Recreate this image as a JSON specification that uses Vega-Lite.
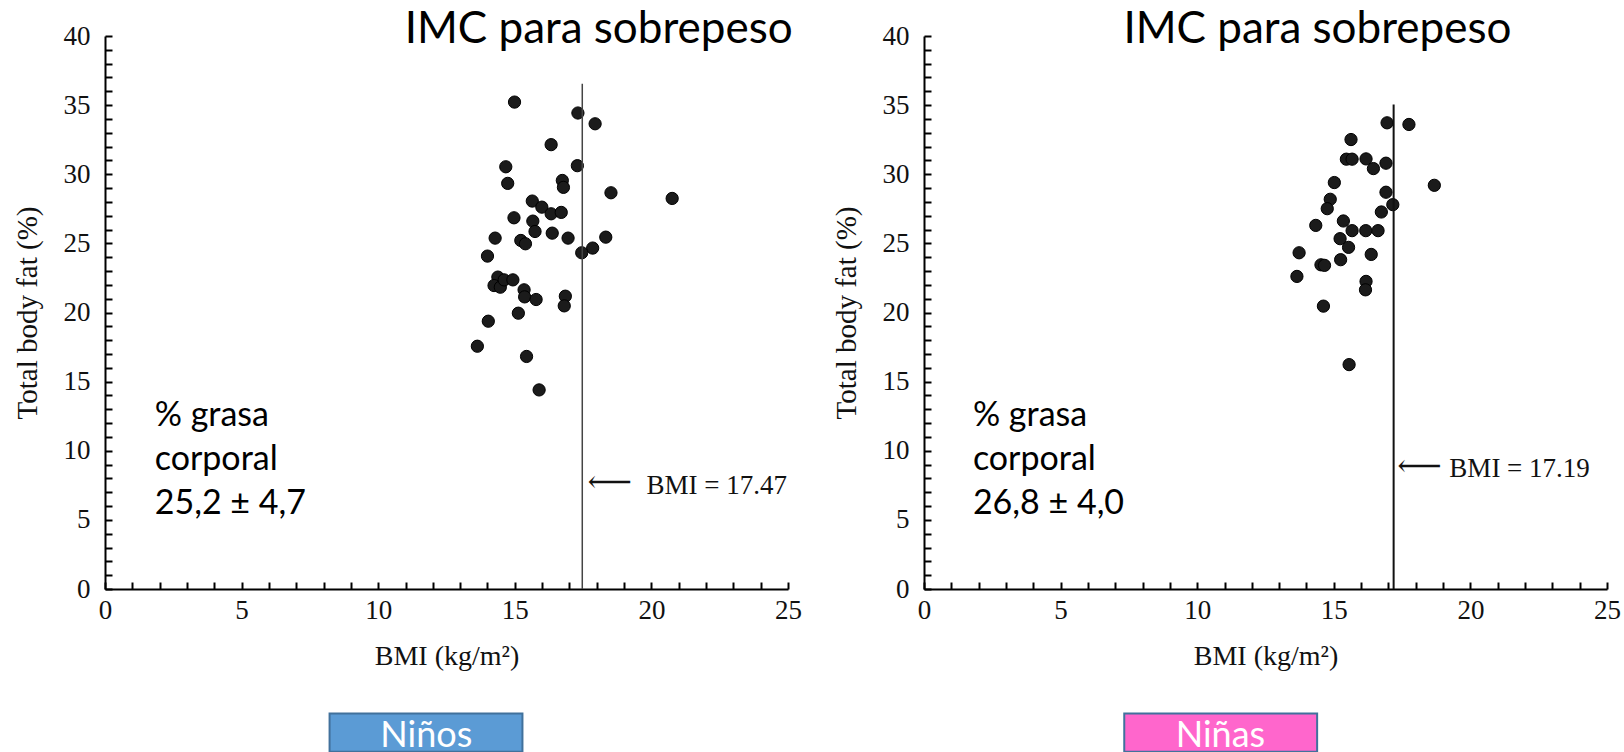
{
  "$schema": "https://vega.github.io/schema/vega-lite/v6.json",
  "background": "white",
  "padding": {"left": 13, "top": 7, "right": 0, "bottom": 0},
  "spacing": 136,
  "bounds": "flush",
  "config": {
    "view": {"stroke": null},
    "axis": {
      "domainColor": "black",
      "domainWidth": 2,
      "tickColor": "black",
      "tickWidth": 2,
      "tickSize": -7,
      "grid": false,
      "labelFont": "Liberation Serif",
      "labelFontSize": 27,
      "labelColor": "#111",
      "labelFlush": false,
      "titleFont": "Liberation Serif",
      "titleFontWeight": "normal",
      "titleColor": "#111"
    },
    "axisX": {"labelPadding": 8, "titlePadding": 19, "labelAngle": 0, "titleFontSize": 28},
    "axisY": {"labelPadding": 15, "titlePadding": 21, "titleFontSize": 29}
  },
  "datasets": {
    "ninos": [
      {"bmi": 14.99, "fat": 35.22}, {"bmi": 17.31, "fat": 34.43}, {"bmi": 17.94, "fat": 33.65},
      {"bmi": 16.33, "fat": 32.14}, {"bmi": 14.67, "fat": 30.54}, {"bmi": 17.29, "fat": 30.62},
      {"bmi": 14.74, "fat": 29.34}, {"bmi": 16.74, "fat": 29.55}, {"bmi": 16.78, "fat": 29.05},
      {"bmi": 18.52, "fat": 28.66}, {"bmi": 20.76, "fat": 28.25}, {"bmi": 15.64, "fat": 28.06},
      {"bmi": 15.99, "fat": 27.62}, {"bmi": 16.33, "fat": 27.14}, {"bmi": 16.7, "fat": 27.24},
      {"bmi": 14.97, "fat": 26.85}, {"bmi": 15.66, "fat": 26.61}, {"bmi": 15.74, "fat": 25.86},
      {"bmi": 16.37, "fat": 25.74}, {"bmi": 14.28, "fat": 25.38}, {"bmi": 15.22, "fat": 25.21},
      {"bmi": 15.39, "fat": 24.97}, {"bmi": 16.95, "fat": 25.38}, {"bmi": 18.33, "fat": 25.45},
      {"bmi": 17.85, "fat": 24.66}, {"bmi": 17.45, "fat": 24.32}, {"bmi": 14.0, "fat": 24.08},
      {"bmi": 14.38, "fat": 22.56}, {"bmi": 14.24, "fat": 21.95}, {"bmi": 14.47, "fat": 21.83},
      {"bmi": 14.61, "fat": 22.36}, {"bmi": 14.93, "fat": 22.36}, {"bmi": 15.34, "fat": 21.64},
      {"bmi": 15.36, "fat": 21.13}, {"bmi": 15.78, "fat": 20.94}, {"bmi": 16.85, "fat": 21.18},
      {"bmi": 16.81, "fat": 20.48}, {"bmi": 15.13, "fat": 19.95}, {"bmi": 14.03, "fat": 19.37},
      {"bmi": 13.63, "fat": 17.56}, {"bmi": 15.43, "fat": 16.82}, {"bmi": 15.89, "fat": 14.4}
    ],
    "ninas": [
      {"bmi": 16.95, "fat": 33.72}, {"bmi": 17.75, "fat": 33.6}, {"bmi": 15.63, "fat": 32.51},
      {"bmi": 15.46, "fat": 31.09}, {"bmi": 15.67, "fat": 31.09}, {"bmi": 16.18, "fat": 31.11},
      {"bmi": 16.91, "fat": 30.8}, {"bmi": 16.45, "fat": 30.41}, {"bmi": 15.02, "fat": 29.4},
      {"bmi": 18.68, "fat": 29.2}, {"bmi": 14.87, "fat": 28.19}, {"bmi": 16.91, "fat": 28.7},
      {"bmi": 17.16, "fat": 27.8}, {"bmi": 14.76, "fat": 27.51}, {"bmi": 16.74, "fat": 27.27},
      {"bmi": 14.34, "fat": 26.3}, {"bmi": 15.35, "fat": 26.62}, {"bmi": 15.67, "fat": 25.92},
      {"bmi": 16.17, "fat": 25.92}, {"bmi": 16.62, "fat": 25.92}, {"bmi": 15.23, "fat": 25.34},
      {"bmi": 15.54, "fat": 24.71}, {"bmi": 13.73, "fat": 24.32}, {"bmi": 16.37, "fat": 24.2},
      {"bmi": 14.53, "fat": 23.45}, {"bmi": 14.66, "fat": 23.41}, {"bmi": 15.25, "fat": 23.82},
      {"bmi": 13.65, "fat": 22.61}, {"bmi": 16.18, "fat": 22.25}, {"bmi": 16.16, "fat": 21.64},
      {"bmi": 14.62, "fat": 20.46}, {"bmi": 15.56, "fat": 16.23}
    ]
  },
  "hconcat": [
    {
      "width": 683,
      "height": 553,
      "resolve": {"axis": {"x": "independent", "y": "independent"}},
      "layer": [
        {
          "data": {"name": "ninos"},
          "mark": {"type": "point", "filled": true, "size": 150, "color": "#1b1b1b", "stroke": "#000", "strokeWidth": 1, "opacity": 1},
          "encoding": {
            "x": {"field": "bmi", "type": "quantitative", "scale": {"domain": [0, 25], "nice": false},
                  "axis": {"orient": "bottom", "title": null, "labels": false,
                           "values": [0,1,2,3,4,5,6,7,8,9,10,11,12,13,14,15,16,17,18,19,20,21,22,23,24,25]}},
            "y": {"field": "fat", "type": "quantitative", "scale": {"domain": [0, 40], "nice": false},
                  "axis": {"orient": "left", "title": null, "labels": false,
                           "values": [0,1,2,3,4,5,6,7,8,9,10,11,12,13,14,15,16,17,18,19,20,21,22,23,24,25,26,27,28,29,30,31,32,33,34,35,36,37,38,39,40]}}
          }
        },
        {
          "data": {"values": [{"bmi": 17.47, "lo": 0, "hi": 36.55}]},
          "mark": {"type": "rule", "color": "#444", "strokeWidth": 1.5},
          "encoding": {
            "x": {"field": "bmi", "type": "quantitative",
                  "axis": {"orient": "bottom", "title": "BMI (kg/m²)", "domain": false, "ticks": false, "values": [0, 5, 10, 15, 20, 25]}},
            "y": {"field": "lo", "type": "quantitative",
                  "axis": {"orient": "left", "title": "Total body fat (%)", "domain": false, "ticks": false, "values": [0, 5, 10, 15, 20, 25, 30, 35, 40]}},
            "y2": {"field": "hi"}
          }
        },
        {
          "data": {"values": [{"text": "⟵", "bmi": 17.66, "fat": 7.64}]},
          "mark": {"type": "text", "align": "left", "baseline": "middle", "font": "DejaVu Serif", "fontSize": 31, "color": "#111"},
          "encoding": {"x": {"field": "bmi", "type": "quantitative", "axis": null}, "y": {"field": "fat", "type": "quantitative", "axis": null}, "text": {"field": "text"}}
        },
        {
          "data": {"values": [{"text": "BMI = 17.47", "bmi": 19.82, "fat": 6.88}]},
          "mark": {"type": "text", "align": "left", "baseline": "alphabetic", "font": "Liberation Serif", "fontSize": 27, "color": "#111"},
          "encoding": {"x": {"field": "bmi", "type": "quantitative", "axis": null}, "y": {"field": "fat", "type": "quantitative", "axis": null}, "text": {"field": "text"}}
        },
        {
          "data": {"values": [{"text": "% grasa\ncorporal\n25,2 ± 4,7", "bmi": 1.82, "fat": 11.82}]},
          "mark": {"type": "text", "align": "left", "baseline": "alphabetic", "lineBreak": "\n", "lineHeight": 44, "font": "Lato", "fontSize": 34, "color": "black"},
          "encoding": {"x": {"field": "bmi", "type": "quantitative", "axis": null}, "y": {"field": "fat", "type": "quantitative", "axis": null}, "text": {"field": "text"}}
        },
        {
          "data": {"values": [{"text": "IMC para sobrepeso", "bmi": 18.07, "fat": 39.51}]},
          "mark": {"type": "text", "align": "center", "baseline": "alphabetic", "font": "Lato", "fontSize": 44, "color": "black"},
          "encoding": {"x": {"field": "bmi", "type": "quantitative", "axis": null}, "y": {"field": "fat", "type": "quantitative", "axis": null}, "text": {"field": "text"}}
        },
        {
          "data": {"values": [{"left": 8.22, "right": 15.28, "top": -9.0, "bottom": -11.78}]},
          "mark": {"type": "rect", "color": "#5B9BD5", "stroke": "#41719C", "strokeWidth": 2},
          "encoding": {"x": {"field": "left", "type": "quantitative", "axis": null}, "x2": {"field": "right"}, "y": {"field": "top", "type": "quantitative", "axis": null}, "y2": {"field": "bottom"}}
        },
        {
          "data": {"values": [{"text": "Niños", "bmi": 11.76, "fat": -10.6}]},
          "mark": {"type": "text", "align": "center", "baseline": "middle", "font": "Lato", "fontSize": 36, "color": "white"},
          "encoding": {"x": {"field": "bmi", "type": "quantitative", "axis": null}, "y": {"field": "fat", "type": "quantitative", "axis": null}, "text": {"field": "text"}}
        }
      ]
    },
    {
      "width": 683,
      "height": 553,
      "resolve": {"axis": {"x": "independent", "y": "independent"}},
      "layer": [
        {
          "data": {"name": "ninas"},
          "mark": {"type": "point", "filled": true, "size": 150, "color": "#1b1b1b", "stroke": "#000", "strokeWidth": 1, "opacity": 1},
          "encoding": {
            "x": {"field": "bmi", "type": "quantitative", "scale": {"domain": [0, 25], "nice": false},
                  "axis": {"orient": "bottom", "title": null, "labels": false,
                           "values": [0,1,2,3,4,5,6,7,8,9,10,11,12,13,14,15,16,17,18,19,20,21,22,23,24,25]}},
            "y": {"field": "fat", "type": "quantitative", "scale": {"domain": [0, 40], "nice": false},
                  "axis": {"orient": "left", "title": null, "labels": false,
                           "values": [0,1,2,3,4,5,6,7,8,9,10,11,12,13,14,15,16,17,18,19,20,21,22,23,24,25,26,27,28,29,30,31,32,33,34,35,36,37,38,39,40]}}
          }
        },
        {
          "data": {"values": [{"bmi": 17.19, "lo": 0, "hi": 35.05}]},
          "mark": {"type": "rule", "color": "#111", "strokeWidth": 2},
          "encoding": {
            "x": {"field": "bmi", "type": "quantitative",
                  "axis": {"orient": "bottom", "title": "BMI (kg/m²)", "domain": false, "ticks": false, "values": [0, 5, 10, 15, 20, 25]}},
            "y": {"field": "lo", "type": "quantitative",
                  "axis": {"orient": "left", "title": "Total body fat (%)", "domain": false, "ticks": false, "values": [0, 5, 10, 15, 20, 25, 30, 35, 40]}},
            "y2": {"field": "hi"}
          }
        },
        {
          "data": {"values": [{"text": "⟵", "bmi": 17.32, "fat": 8.8}]},
          "mark": {"type": "text", "align": "left", "baseline": "middle", "font": "DejaVu Serif", "fontSize": 31, "color": "#111"},
          "encoding": {"x": {"field": "bmi", "type": "quantitative", "axis": null}, "y": {"field": "fat", "type": "quantitative", "axis": null}, "text": {"field": "text"}}
        },
        {
          "data": {"values": [{"text": "BMI = 17.19", "bmi": 19.23, "fat": 8.08}]},
          "mark": {"type": "text", "align": "left", "baseline": "alphabetic", "font": "Liberation Serif", "fontSize": 27, "color": "#111"},
          "encoding": {"x": {"field": "bmi", "type": "quantitative", "axis": null}, "y": {"field": "fat", "type": "quantitative", "axis": null}, "text": {"field": "text"}}
        },
        {
          "data": {"values": [{"text": "% grasa\ncorporal\n26,8 ± 4,0", "bmi": 1.79, "fat": 11.82}]},
          "mark": {"type": "text", "align": "left", "baseline": "alphabetic", "lineBreak": "\n", "lineHeight": 44, "font": "Lato", "fontSize": 34, "color": "black"},
          "encoding": {"x": {"field": "bmi", "type": "quantitative", "axis": null}, "y": {"field": "fat", "type": "quantitative", "axis": null}, "text": {"field": "text"}}
        },
        {
          "data": {"values": [{"text": "IMC para sobrepeso", "bmi": 14.4, "fat": 39.51}]},
          "mark": {"type": "text", "align": "center", "baseline": "alphabetic", "font": "Lato", "fontSize": 44, "color": "black"},
          "encoding": {"x": {"field": "bmi", "type": "quantitative", "axis": null}, "y": {"field": "fat", "type": "quantitative", "axis": null}, "text": {"field": "text"}}
        },
        {
          "data": {"values": [{"left": 7.33, "right": 14.39, "top": -9.0, "bottom": -11.78}]},
          "mark": {"type": "rect", "color": "#FF66CC", "stroke": "#41719C", "strokeWidth": 2},
          "encoding": {"x": {"field": "left", "type": "quantitative", "axis": null}, "x2": {"field": "right"}, "y": {"field": "top", "type": "quantitative", "axis": null}, "y2": {"field": "bottom"}}
        },
        {
          "data": {"values": [{"text": "Niñas", "bmi": 10.85, "fat": -10.6}]},
          "mark": {"type": "text", "align": "center", "baseline": "middle", "font": "Lato", "fontSize": 36, "color": "white"},
          "encoding": {"x": {"field": "bmi", "type": "quantitative", "axis": null}, "y": {"field": "fat", "type": "quantitative", "axis": null}, "text": {"field": "text"}}
        }
      ]
    }
  ]
}
